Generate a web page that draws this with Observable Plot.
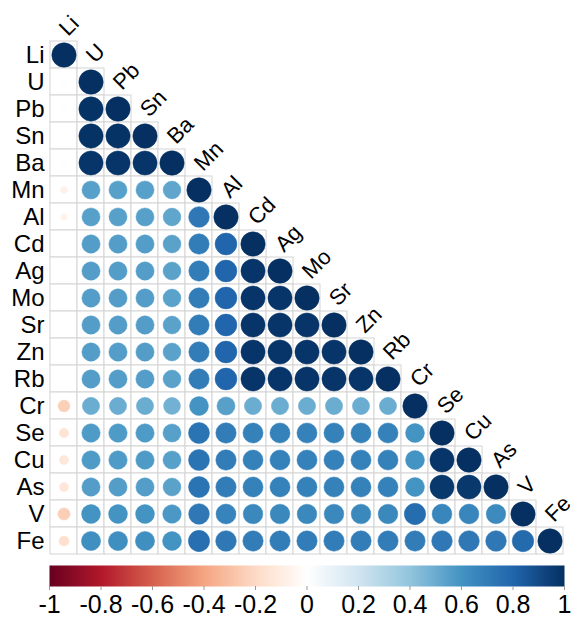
<!DOCTYPE html>
<html>
<head>
<meta charset="utf-8">
<script src="https://cdn.jsdelivr.net/npm/d3@7"></script>
<script src="https://cdn.jsdelivr.net/npm/@observablehq/plot@0.6"></script>
<style>
  body { margin: 0; background: #fff; }
  #chart svg { display: block; }
</style>
</head>
<body>
<div id="chart"></div>
<script>
// Variables in display order (rows top to bottom, columns left to right)
const vars = ["Li", "U", "Pb", "Sn", "Ba", "Mn", "Al", "Cd", "Ag", "Mo", "Sr", "Zn", "Rb", "Cr", "Se", "Cu", "As", "V", "Fe"];

// Lower-triangle correlation coefficients, one array per row (diagonal last)
const rowLi = [1];
const rowU  = [0.02, 1];
const rowPb = [0.02, 0.99, 1];
const rowSn = [0.02, 0.99, 0.99, 1];
const rowBa = [0.02, 0.98, 0.98, 0.98, 1];
const rowMn = [-0.08, 0.55, 0.55, 0.55, 0.53, 1];
const rowAl = [-0.07, 0.55, 0.55, 0.55, 0.53, 0.72, 1];
const rowCd = [0.01, 0.56, 0.56, 0.56, 0.54, 0.70, 0.80, 1];
const rowAg = [0.01, 0.56, 0.56, 0.56, 0.54, 0.70, 0.80, 0.98, 1];
const rowMo = [0.01, 0.56, 0.56, 0.56, 0.54, 0.70, 0.80, 0.98, 0.98, 1];
const rowSr = [0.01, 0.56, 0.56, 0.56, 0.54, 0.70, 0.80, 0.98, 0.98, 0.98, 1];
const rowZn = [0.01, 0.56, 0.56, 0.56, 0.54, 0.70, 0.80, 0.98, 0.98, 0.98, 0.98, 1];
const rowRb = [0.01, 0.56, 0.56, 0.56, 0.54, 0.70, 0.80, 0.98, 0.98, 0.98, 0.98, 0.98, 1];
const rowCr = [-0.24, 0.50, 0.50, 0.50, 0.48, 0.60, 0.55, 0.50, 0.50, 0.50, 0.50, 0.50, 0.50, 1];
const rowSe = [-0.15, 0.57, 0.57, 0.57, 0.55, 0.74, 0.70, 0.68, 0.68, 0.68, 0.68, 0.68, 0.68, 0.60, 1];
const rowCu = [-0.14, 0.57, 0.57, 0.57, 0.55, 0.74, 0.70, 0.68, 0.68, 0.68, 0.68, 0.68, 0.68, 0.60, 0.98, 1];
const rowAs = [-0.14, 0.56, 0.56, 0.56, 0.54, 0.74, 0.70, 0.68, 0.68, 0.68, 0.68, 0.68, 0.68, 0.60, 0.97, 0.97, 1];
const rowV  = [-0.25, 0.60, 0.60, 0.60, 0.58, 0.72, 0.67, 0.65, 0.65, 0.65, 0.65, 0.65, 0.65, 0.77, 0.66, 0.66, 0.64, 1];
const rowFe = [-0.17, 0.62, 0.62, 0.62, 0.60, 0.76, 0.72, 0.70, 0.70, 0.70, 0.70, 0.70, 0.70, 0.70, 0.72, 0.72, 0.72, 0.78, 1];

const lowerRows = [rowLi, rowU, rowPb, rowSn, rowBa, rowMn, rowAl, rowCd, rowAg, rowMo,
                   rowSr, rowZn, rowRb, rowCr, rowSe, rowCu, rowAs, rowV, rowFe];

// Diverging red–white–blue palette and its stops
const paletteStops = [-1, -0.8, -0.6, -0.4, -0.2, 0, 0.2, 0.4, 0.6, 0.8, 1];
const paletteColors = ["#67001F", "#B2182B", "#D6604D", "#F4A582", "#FDDBC7", "#FFFFFF",
                       "#D1E5F0", "#92C5DE", "#4393C3", "#2166AC", "#053061"];

// Colour bar tick labels
const barTicks = [-1, -0.8, -0.6, -0.4, -0.2, 0, 0.2, 0.4, 0.6, 0.8, 1];

const cells = lowerRows.flatMap((row, i) =>
  row.map((v, j) => ({row: vars[i], col: vars[j], r: v}))
);

const colorScale = {type: "linear", domain: paletteStops, range: paletteColors, interpolate: "rgb"};
const font = "'Liberation Sans', Arial, sans-serif";

const matrix = Plot.plot({
  width: 577,
  height: 556,
  marginLeft: 49,
  marginRight: 13,
  marginTop: 40,
  marginBottom: 2,
  style: {fontFamily: font, color: "#000", background: "#fff", overflow: "visible"},
  x: {type: "band", domain: vars, padding: 0, axis: null},
  y: {type: "band", domain: vars, padding: 0},
  color: colorScale,
  r: {type: "sqrt", domain: [0, 1], range: [0, 12.2]},
  marks: [
    Plot.cell(cells, {x: "col", y: "row", fill: "white", stroke: "#d4d4d4", strokeWidth: 1}),
    Plot.dot(cells, {x: "col", y: "row", r: d => Math.abs(d.r), fill: "r", stroke: "r", strokeWidth: 0.5}),
    Plot.axisY({tickSize: 0, tickPadding: 5, fontSize: 24, label: null}),
    Plot.text(vars, {
      x: d => d, y: d => d, text: d => d,
      rotate: -45, textAnchor: "start", lineAnchor: "middle",
      dx: -1, dy: -23, fontSize: 22, fill: "#000"
    })
  ]
});

const colorbar = Plot.plot({
  width: 577,
  height: 67,
  marginLeft: 49,
  marginRight: 13,
  marginTop: 9,
  marginBottom: 37,
  style: {fontFamily: font, color: "#000", background: "#fff", overflow: "visible"},
  x: {domain: [-1, 1]},
  y: {domain: [0, 1], axis: null},
  color: colorScale,
  marks: [
    Plot.raster({x1: -1, x2: 1, y1: 0, y2: 1, width: 515, height: 1, fill: (x, y) => x}),
    Plot.axisX({ticks: barTicks, tickFormat: d => String(d), tickSize: 4, tickPadding: 5,
                fontSize: 25, stroke: "#999", label: null})
  ]
});

const root = document.getElementById("chart");
root.appendChild(matrix);
root.appendChild(colorbar);
</script>
</body>
</html>
